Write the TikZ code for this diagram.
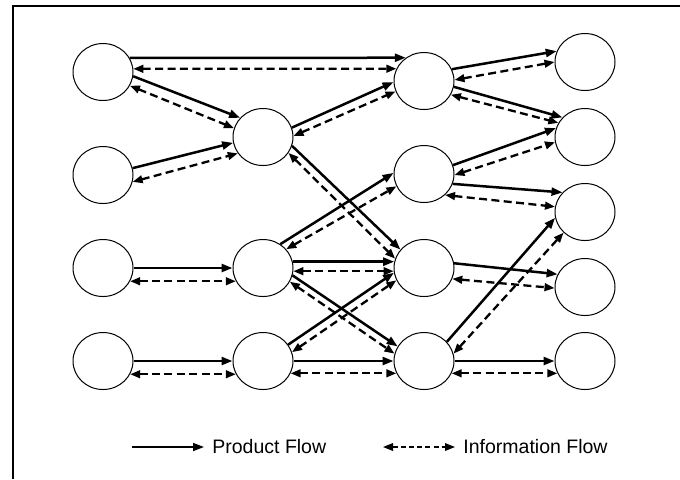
\documentclass[tikz,border=0pt]{standalone}
\usepackage{fontspec}
\setmainfont{Liberation Sans}
\usetikzlibrary{shapes.geometric,arrows.meta}

\begin{document}
\begin{tikzpicture}[x=0.5pt,y=-0.5pt,
	stage/.style={draw,ellipse,line width=0.5pt,minimum width=30pt,minimum height=28.5pt,inner sep=0pt},
	prod/.style={line width=1.25pt,-{Triangle[length=5.5pt,width=4pt]}},
	info/.style={line width=1.15pt,dash pattern=on 4pt off 2.2pt,{Triangle[length=5pt,width=3.8pt]}-{Triangle[length=5pt,width=3.8pt]}}]
	\useasboundingbox (0,0) rectangle (680,479);
	\draw[line width=0.6pt] (680,6) -- (13,6) -- (13,479);

	\node[stage] (a1) at (103,72) {};
	\node[stage] (a2) at (103,175) {};
	\node[stage] (a3) at (103,268) {};
	\node[stage] (a4) at (103,361) {};
	\node[stage] (b1) at (263,137) {};
	\node[stage] (b2) at (263,268) {};
	\node[stage] (b3) at (263,361) {};
	\node[stage] (c1) at (424,81) {};
	\node[stage] (c2) at (424,174) {};
	\node[stage] (c3) at (424,268) {};
	\node[stage] (c4) at (424,361) {};
	\node[stage] (d1) at (585,62) {};
	\node[stage] (d2) at (585,137) {};
	\node[stage] (d3) at (585,212) {};
	\node[stage] (d4) at (585,287) {};
	\node[stage] (d5) at (585,361) {};

	\draw[prod] (a1.28) -- (c1.128);
	\draw[info] (a1.6) -- (c1.156);
	\draw[prod] (a1.-8) -- (b1.140);
	\draw[info] (a1.-27) -- (b1.163);
	\draw[prod] (a2.13) -- (b1.191);
	\draw[info] (a2.-13) -- (b1.213);
	\draw[prod] (b1.18) -- (c1.182);
	\draw[info] (b1.2) -- (c1.200);
	\draw[prod] (b1.-17) -- (c3.142);
	\draw[info] (b1.-32) -- (c3.162);
	\draw[prod] (c1.23) -- (d1.159);
	\draw[info] (c1.2) -- (d1.180);
	\draw[prod] (c1.-11) -- (d2.139);
	\draw[info] (c1.-27) -- (d2.152);
	\draw[prod] (c2.17) -- (d2.163);
	\draw[info] (c2.-2) -- (d2.190);
	\draw[prod] (c2.-19) -- (d3.139);
	\draw[info] (c2.-45) -- (d3.170);
	\draw[prod] (b2.54) -- (c2.178);
	\draw[info] (b2.39) -- (c2.204);
	\draw[prod] (a3.0) -- (b2.180);
	\draw[info] (a3.-26) -- (b2.206);
	\draw[prod] (b2.12) -- (c3.168);
	\draw[info] (b2.-6) -- (c3.186);
	\draw[prod] (b2.-14) -- (c4.151);
	\draw[info] (b2.-27) -- (c4.166);
	\draw[prod] (b3.33) -- (c3.189);
	\draw[info] (b3.17) -- (c3.204);
	\draw[prod] (a4.0) -- (b3.180);
	\draw[info] (a4.-26) -- (b3.206);
	\draw[prod] (b3.0) -- (c4.180);
	\draw[info] (b3.-24) -- (c4.204);
	\draw[prod] (c3.9) -- (d4.155);
	\draw[info] (c3.-21) -- (d4.182);
	\draw[prod] (c4.40) -- (d3.191);
	\draw[info] (c4.14) -- (d3.224);
	\draw[prod] (c4.0) -- (d5.180);
	\draw[info] (c4.-24) -- (d5.204);

	\coordinate (pstart) at (132,447);
	\node[anchor=west,inner sep=0pt,font=\fontsize{9.75}{11}\selectfont] (ptext) at (212,447) {Product Flow};
	\draw[prod,line width=0.8pt] (pstart) -- ([xshift=-4pt]ptext.west);
	\coordinate (istart) at (383,447);
	\node[anchor=west,inner sep=0pt,font=\fontsize{9.75}{11}\selectfont] (itext) at (463,447) {Information Flow};
	\draw[info,line width=0.7pt,dash pattern=on 2.5pt off 1.6pt] (istart) -- ([xshift=-4pt]itext.west);
\end{tikzpicture}
\end{document}
